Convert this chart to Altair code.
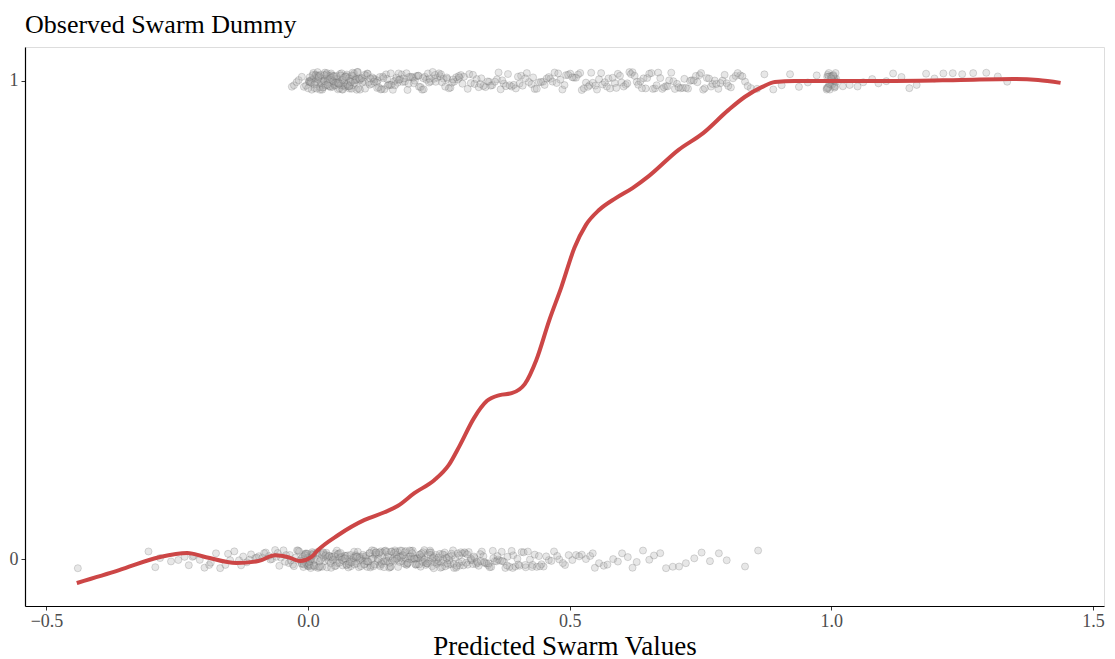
import math
import altair as alt
import pandas as pd

# Observed = 1 : predicted values of swarm cases
obs1_x = [
    -0.031, -0.027, -0.022, -0.018, -0.012, -0.008, -0.004,
    0.001, 0.003, 0.005, 0.007, 0.008, 0.011, 0.013, 0.015, 0.016, 0.019, 0.021, 0.023,
    0.026, 0.028, 0.029, 0.032, 0.034, 0.036, 0.039, 0.041, 0.043, 0.044, 0.047, 0.049,
    0.052, 0.054, 0.056, 0.058, 0.061, 0.063, 0.065, 0.067, 0.070, 0.072, 0.074, 0.077,
    0.079, 0.081, 0.084, 0.086, 0.088, 0.091, 0.093, 0.096, 0.098,
    0.102, 0.106, 0.109, 0.113, 0.118, 0.121, 0.125, 0.128, 0.133, 0.137, 0.141, 0.146,
    0.149, 0.154, 0.158, 0.162, 0.167, 0.171, 0.176, 0.181, 0.185, 0.190, 0.196, 0.201,
    0.207, 0.212, 0.218, 0.223, 0.229, 0.234, 0.241, 0.247, 0.252, 0.259, 0.266, 0.272,
    0.279, 0.286, 0.292, 0.298,
    0.305, 0.311, 0.318, 0.326, 0.331, 0.339, 0.346, 0.352, 0.361, 0.368, 0.374, 0.382,
    0.389, 0.397, 0.404, 0.410, 0.418, 0.427, 0.433, 0.441, 0.449, 0.456, 0.463, 0.471,
    0.478, 0.486, 0.493, 0.501, 0.508, 0.516, 0.523, 0.531, 0.538, 0.544, 0.549,
    0.556, 0.563, 0.571, 0.577, 0.586, 0.592, 0.599, 0.607, 0.614, 0.620, 0.628, 0.635,
    0.641, 0.648, 0.656, 0.663, 0.669, 0.677, 0.684, 0.690, 0.698, 0.705, 0.712, 0.719,
    0.726, 0.733, 0.741, 0.748, 0.755, 0.762, 0.770, 0.777, 0.784, 0.792, 0.800, 0.808,
    0.817, 0.826, 0.835, 0.846, 0.858,
    0.872, 0.889, 0.905, 0.921, 0.938, 0.955, 0.972,
    0.991, 0.993, 0.995, 0.996, 0.998, 0.999, 1.000, 1.000, 1.001, 1.002, 1.004, 1.005,
    1.007, 1.009, 0.992, 0.997, 1.003, 1.006, 1.008, 0.994,
    1.022, 1.035, 1.050, 1.061, 1.078, 1.090, 1.105, 1.118, 1.134, 1.149, 1.163, 1.181,
    1.197, 1.214, 1.232, 1.250, 1.271, 1.296, 1.318, 1.336,
    0.002, 0.004, 0.006, 0.010, 0.012, 0.014, 0.017, 0.018, 0.020, 0.022, 0.025, 0.027,
    0.030, 0.031, 0.033, 0.035, 0.038, 0.040, 0.042, 0.045, 0.046, 0.048, 0.051, 0.053,
    0.055, 0.057, 0.060, 0.062, 0.064, 0.066, 0.069, 0.071, 0.073, 0.076, 0.078, 0.080,
    0.083, 0.085, 0.087, 0.090, 0.092, 0.095, 0.097, 0.099,
    0.104, 0.111, 0.116, 0.123, 0.131, 0.135, 0.143, 0.151, 0.156, 0.164, 0.169, 0.174,
    0.179, 0.188, 0.193, 0.199, 0.204, 0.210, 0.215, 0.221, 0.226, 0.232, 0.238, 0.244,
    0.250, 0.256, 0.262, 0.269, 0.275, 0.283, 0.289, 0.295,
    0.308, 0.322, 0.335, 0.349, 0.357, 0.371, 0.385, 0.393, 0.407, 0.422, 0.437, 0.452,
    0.467, 0.482, 0.497, 0.512, 0.527, 0.541, 0.560, 0.574, 0.589, 0.603, 0.617, 0.631,
    0.645, 0.659, 0.673, 0.687, 0.701, 0.716, 0.730, 0.744, 0.758, 0.773, 0.788, 0.803,
    0.821, 0.840,
    0.991, 0.995, 0.998, 1.001, 1.004, 1.007, 1.000, 0.993, 1.006, 1.009,
    0.000, 0.003, 0.009, 0.012, 0.016, 0.020, 0.024, 0.027, 0.031, 0.035, 0.037, 0.041,
    0.044, 0.048, 0.050, 0.054, 0.057, 0.059, 0.062, 0.066, 0.068, 0.071, 0.075, 0.079,
    0.082, 0.085, 0.089, 0.094, 0.099, 0.103, 0.108, 0.114, 0.119, 0.126, 0.132, 0.139,
    0.144, 0.152, 0.159, 0.166, 0.173, 0.183, 0.192, 0.202, 0.211, 0.220, 0.231, 0.243,
    0.254, 0.265, 0.277, 0.288,
    0.315, 0.329, 0.343, 0.364, 0.378, 0.401, 0.415, 0.430, 0.445, 0.460, 0.475, 0.490,
    0.505, 0.520, 0.535, 0.552, 0.567, 0.582, 0.596, 0.610, 0.624, 0.638, 0.652, 0.666,
    0.680, 0.694, 0.708, 0.722, 0.737, 0.751, 0.766, 0.780, 0.796, 0.812, 0.830,
]

# Observed = 0 : predicted values of non-swarm cases
obs0_x = [
    -0.440,
    -0.305, -0.292, -0.283, -0.262, -0.248, -0.236, -0.228, -0.219, -0.207, -0.198,
    -0.189, -0.176, -0.168, -0.158, -0.149, -0.141, -0.132, -0.124, -0.117, -0.109,
    -0.101, -0.094, -0.087, -0.081, -0.075, -0.069, -0.063, -0.058, -0.052, -0.047,
    -0.042, -0.037, -0.033, -0.029, -0.025, -0.021, -0.017,
    -0.013, -0.012, -0.011, -0.009, -0.007, -0.006, -0.005, -0.004, -0.003, -0.002,
    -0.001, 0.000, 0.000, 0.001, 0.002, 0.003, 0.004, 0.005, 0.006, 0.007, 0.009,
    0.010, 0.012, 0.013,
    0.016, 0.019, 0.023, 0.027, 0.030, 0.034, 0.037, 0.041, 0.045, 0.048, 0.052, 0.055,
    0.059, 0.063, 0.066, 0.070, 0.073, 0.077, 0.081, 0.084, 0.088, 0.091, 0.095, 0.099,
    0.102, 0.106, 0.110, 0.113, 0.117, 0.120, 0.124, 0.128, 0.131, 0.135, 0.139, 0.142,
    0.146, 0.149, 0.153, 0.157, 0.160, 0.164, 0.168, 0.171, 0.175, 0.178, 0.182, 0.186,
    0.189, 0.193, 0.197, 0.200, 0.204, 0.207, 0.211, 0.215, 0.218, 0.222, 0.226, 0.229,
    0.233, 0.237, 0.240, 0.244, 0.248, 0.252, 0.256, 0.260, 0.264, 0.268, 0.272, 0.277,
    0.281, 0.286, 0.290, 0.295, 0.300, 0.305, 0.310, 0.315, 0.321, 0.326, 0.332, 0.338,
    0.344, 0.350, 0.357, 0.363, 0.370, 0.377, 0.385, 0.392, 0.400, 0.408, 0.416,
    0.424, 0.433, 0.441, 0.450, 0.460, 0.470, 0.480, 0.491,
    0.505, 0.512, 0.523, 0.531, 0.539, 0.548, 0.556, 0.565, 0.572, 0.583, 0.592, 0.600,
    0.611, 0.620, 0.628, 0.640, 0.652, 0.661, 0.673, 0.684, 0.697, 0.709, 0.722, 0.738,
    0.752, 0.768, 0.785, 0.800, 0.835, 0.860,
    -0.221, -0.186, -0.153, -0.128, -0.112, -0.098, -0.084, -0.072, -0.061, -0.055,
    -0.044, -0.035, -0.027, -0.019, -0.015,
    -0.012, -0.008, -0.004, -0.001, 0.000, 0.002, 0.005, 0.008, 0.011, -0.010, 0.003,
    0.006, -0.006, 0.009, 0.012,
    0.017, 0.021, 0.025, 0.028, 0.032, 0.035, 0.039, 0.043, 0.046, 0.050, 0.054, 0.057,
    0.061, 0.064, 0.068, 0.072, 0.075, 0.079, 0.082, 0.086, 0.090, 0.093, 0.097, 0.100,
    0.104, 0.108, 0.111, 0.115, 0.119, 0.122, 0.126, 0.129, 0.133, 0.137, 0.140, 0.144,
    0.148, 0.151, 0.155, 0.158, 0.162, 0.166, 0.169, 0.173, 0.177, 0.180, 0.184, 0.187,
    0.191, 0.195, 0.198, 0.202, 0.206, 0.209, 0.213, 0.216, 0.220, 0.224, 0.227, 0.231,
    0.235, 0.239, 0.242, 0.246, 0.250, 0.254, 0.258, 0.262, 0.266, 0.270, 0.275, 0.279,
    0.283, 0.288, 0.292, 0.297, 0.302, 0.307, 0.313, 0.318, 0.324, 0.329, 0.335, 0.341,
    0.347, 0.354, 0.360, 0.367, 0.374, 0.381, 0.389, 0.396, 0.404, 0.412,
    0.420, 0.429, 0.437, 0.446, 0.455, 0.465, 0.476, 0.487, 0.498, 0.518, 0.544,
    0.018, 0.022, 0.026, 0.029, 0.033, 0.036, 0.040, 0.044, 0.047, 0.051, 0.053, 0.056,
    0.060, 0.062, 0.065, 0.069, 0.071, 0.074, 0.078, 0.080, 0.083, 0.087, 0.089, 0.092,
    0.094, 0.098, 0.101, 0.105, 0.107, 0.112, 0.114, 0.118, 0.121, 0.125, 0.127, 0.130,
    0.134, 0.136, 0.138, 0.141, 0.145, 0.147, 0.150, 0.154, 0.156, 0.159, 0.161, 0.165,
    0.167, 0.170, 0.172, 0.176, 0.179, 0.181, 0.185, 0.188, 0.190, 0.194, 0.196, 0.199,
    0.203, 0.205, 0.208, 0.212, 0.214, 0.217, 0.219, 0.223, 0.225, 0.228, 0.232, 0.234,
    0.238, 0.241, 0.245, 0.249, 0.253, 0.257, 0.261, 0.265, 0.269, 0.274, 0.278, 0.284,
    0.289, 0.294, 0.299, 0.304, 0.311, 0.317, 0.323, 0.330, 0.337, 0.345, 0.353, 0.362,
    0.371, 0.380, 0.391, 0.402, 0.415, 0.428, 0.443,
]

# Smoothed fit line
fit_x = [-0.442, -0.361, -0.285, -0.231, -0.195, -0.137, -0.095, -0.063, -0.038, -0.015,
         0.006, 0.019, 0.057, 0.108, 0.146, 0.171, 0.203, 0.241, 0.269, 0.290, 0.317,
         0.342, 0.366, 0.389, 0.414, 0.436, 0.461, 0.484, 0.509, 0.531, 0.556, 0.588,
         0.620, 0.651, 0.708, 0.755, 0.803, 0.835, 0.867, 0.892, 0.930, 0.992, 1.120,
         1.247, 1.347, 1.395, 1.438]
fit_y = [-0.050, -0.023, 0.004, 0.013, 0.004, -0.008, -0.004, 0.008, 0.004, -0.004,
         0.004, 0.019, 0.050, 0.082, 0.098, 0.111, 0.138, 0.165, 0.197, 0.238, 0.295,
         0.331, 0.343, 0.347, 0.366, 0.416, 0.500, 0.569, 0.651, 0.699, 0.730, 0.755,
         0.776, 0.801, 0.856, 0.891, 0.939, 0.967, 0.987, 0.998, 1.000, 1.000, 1.000,
         1.002, 1.004, 1.002, 0.996]

x_ticks = [-0.5, 0.0, 0.5, 1.0, 1.5]
y_ticks = [0, 1]

FONT = "Liberation Serif"


def jitter(i, obs):
    # deterministic display jitter (vertical spread of the strip)
    v = abs(math.sin(i * 12.9898 + obs * 78.233)) * 43758.5453
    return v - math.floor(v)


rows = []
for obs, xs in ((1, obs1_x), (0, obs0_x)):
    for i, x in enumerate(xs):
        rows.append({"pred": x, "obs": obs, "yj": obs + 0.038 * (jitter(i, obs) - 0.5)})
pts = pd.DataFrame(rows)
fit = pd.DataFrame({"pred": fit_x, "fit": fit_y})

xscale = alt.Scale(domain=[-0.541, 1.521], nice=False, zero=False)
yscale = alt.Scale(domain=[-0.098, 1.071], nice=False, zero=False)

xaxis = alt.Axis(values=x_ticks, format=".1f", title="Predicted Swarm Values",
                 grid=False, domainColor="black", domainWidth=1.2, tickColor="#333",
                 tickSize=4, labelFont=FONT, labelFontSize=18, labelColor="#4d4d4d",
                 labelPadding=2, titleFont=FONT, titleFontSize=27,
                 titleFontWeight="normal", titleColor="black", titlePadding=3)
yaxis = alt.Axis(values=y_ticks, format="d", title=None, grid=False,
                 domainColor="black", domainWidth=1.2, tickColor="#333", tickSize=4,
                 labelFont=FONT, labelFontSize=18, labelColor="#4d4d4d", labelPadding=3)

points = alt.Chart(pts).mark_circle(
    size=50, color="#b0b0b0", fillOpacity=0.3, stroke="#555555",
    strokeOpacity=0.36, strokeWidth=0.6
).encode(
    x=alt.X("pred:Q", scale=xscale, axis=xaxis),
    y=alt.Y("yj:Q", scale=yscale, axis=yaxis),
)

line = alt.Chart(fit).mark_line(color="#cc4646", strokeWidth=4, interpolate="monotone").encode(
    x=alt.X("pred:Q", scale=xscale),
    y=alt.Y("fit:Q", scale=yscale),
)

chart = (points + line).properties(
    width=1099, height=651,
    autosize=alt.AutoSizeParams(type="fit", contains="padding"),
    padding={"left": 1, "right": 2, "top": 4, "bottom": 0},
    title=alt.TitleParams("Observed Swarm Dummy", anchor="start", frame="group",
                          font=FONT, fontSize=26, fontWeight="normal", color="black",
                          offset=9),
).configure_view(stroke=None).configure(background="white")

chart.save("out.html", embed_options={"renderer": "svg", "actions": False})
